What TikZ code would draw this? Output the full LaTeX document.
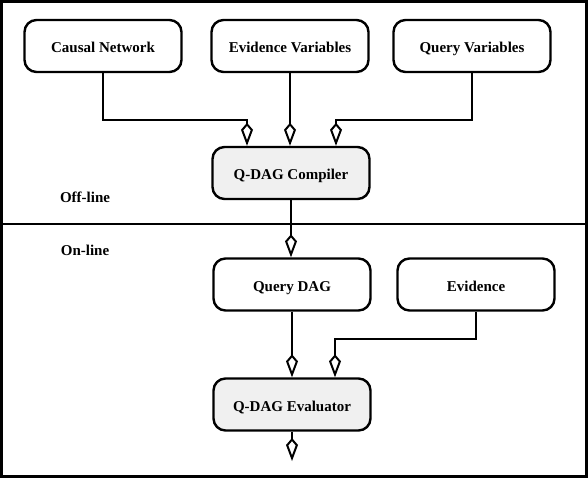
\documentclass[tikz,border=0pt]{standalone}
\usepackage{fontspec}
\setmainfont{Liberation Serif}
\usepackage{tikz}
\usetikzlibrary{arrows.meta}
\definecolor{procgray}{HTML}{F0F0F0}

\begin{document}
\begin{tikzpicture}[x=1pt, y=-1pt,
		box/.style = {draw, rounded corners=12pt, minimum width=157pt, minimum height=52pt, line width=2.4pt, text height=16pt, text depth=2.5pt, font=\bfseries\fontsize{15}{17}\selectfont},
		proc/.style = {box, fill=procgray},
		phase/.style = {font=\bfseries\fontsize{15}{17}\selectfont},
		link/.style = {line width=2.2pt, -{Kite[open, length=23pt, width=12pt, inset=7pt, line width=2pt]}}]

		\useasboundingbox (0,0) rectangle (588,478);
		\draw[line width=3pt] (1.5,1.5) rectangle (586.5,476.5);
		\draw[line width=2.4pt] (2,224) -- (586,224);

		\node[box] (causal) at (103,46) {Causal Network};
		\node[box] (evvars) at (290,46) {Evidence Variables};
		\node[box] (qvars) at (472,46) {Query Variables};

		\node[proc] (compiler) at (291,173) {Q-DAG Compiler};

		\node[box] (qdag) at (292,284.5) {Query DAG};
		\node[box] (evidence) at (476,284.5) {Evidence};

		\node[proc] (evaluator) at (292,404.5) {Q-DAG Evaluator};

		\node[phase] (offline) at (85,197) {Off-line};
		\node[phase] (online) at (85,250) {On-line};

		\coordinate (result) at (292,461);

		\draw[link] (causal.south) -- ++(0,47) -| ([xshift=-44pt]compiler.north);
		\draw[link] (evvars.south) -- (evvars.south |- compiler.north);
		\draw[link] (qvars.south) -- ++(0,47) -| ([xshift=45pt]compiler.north);

		\draw[link] (compiler.south) -- (compiler.south |- qdag.north);
		\draw[link] (qdag.south) -- (evaluator.north);
		\draw[link] (evidence.south) -- ++(0,27) -| ([xshift=43pt]evaluator.north);
		\draw[link] (evaluator.south) -- (result);

	\end{tikzpicture}
\end{document}
